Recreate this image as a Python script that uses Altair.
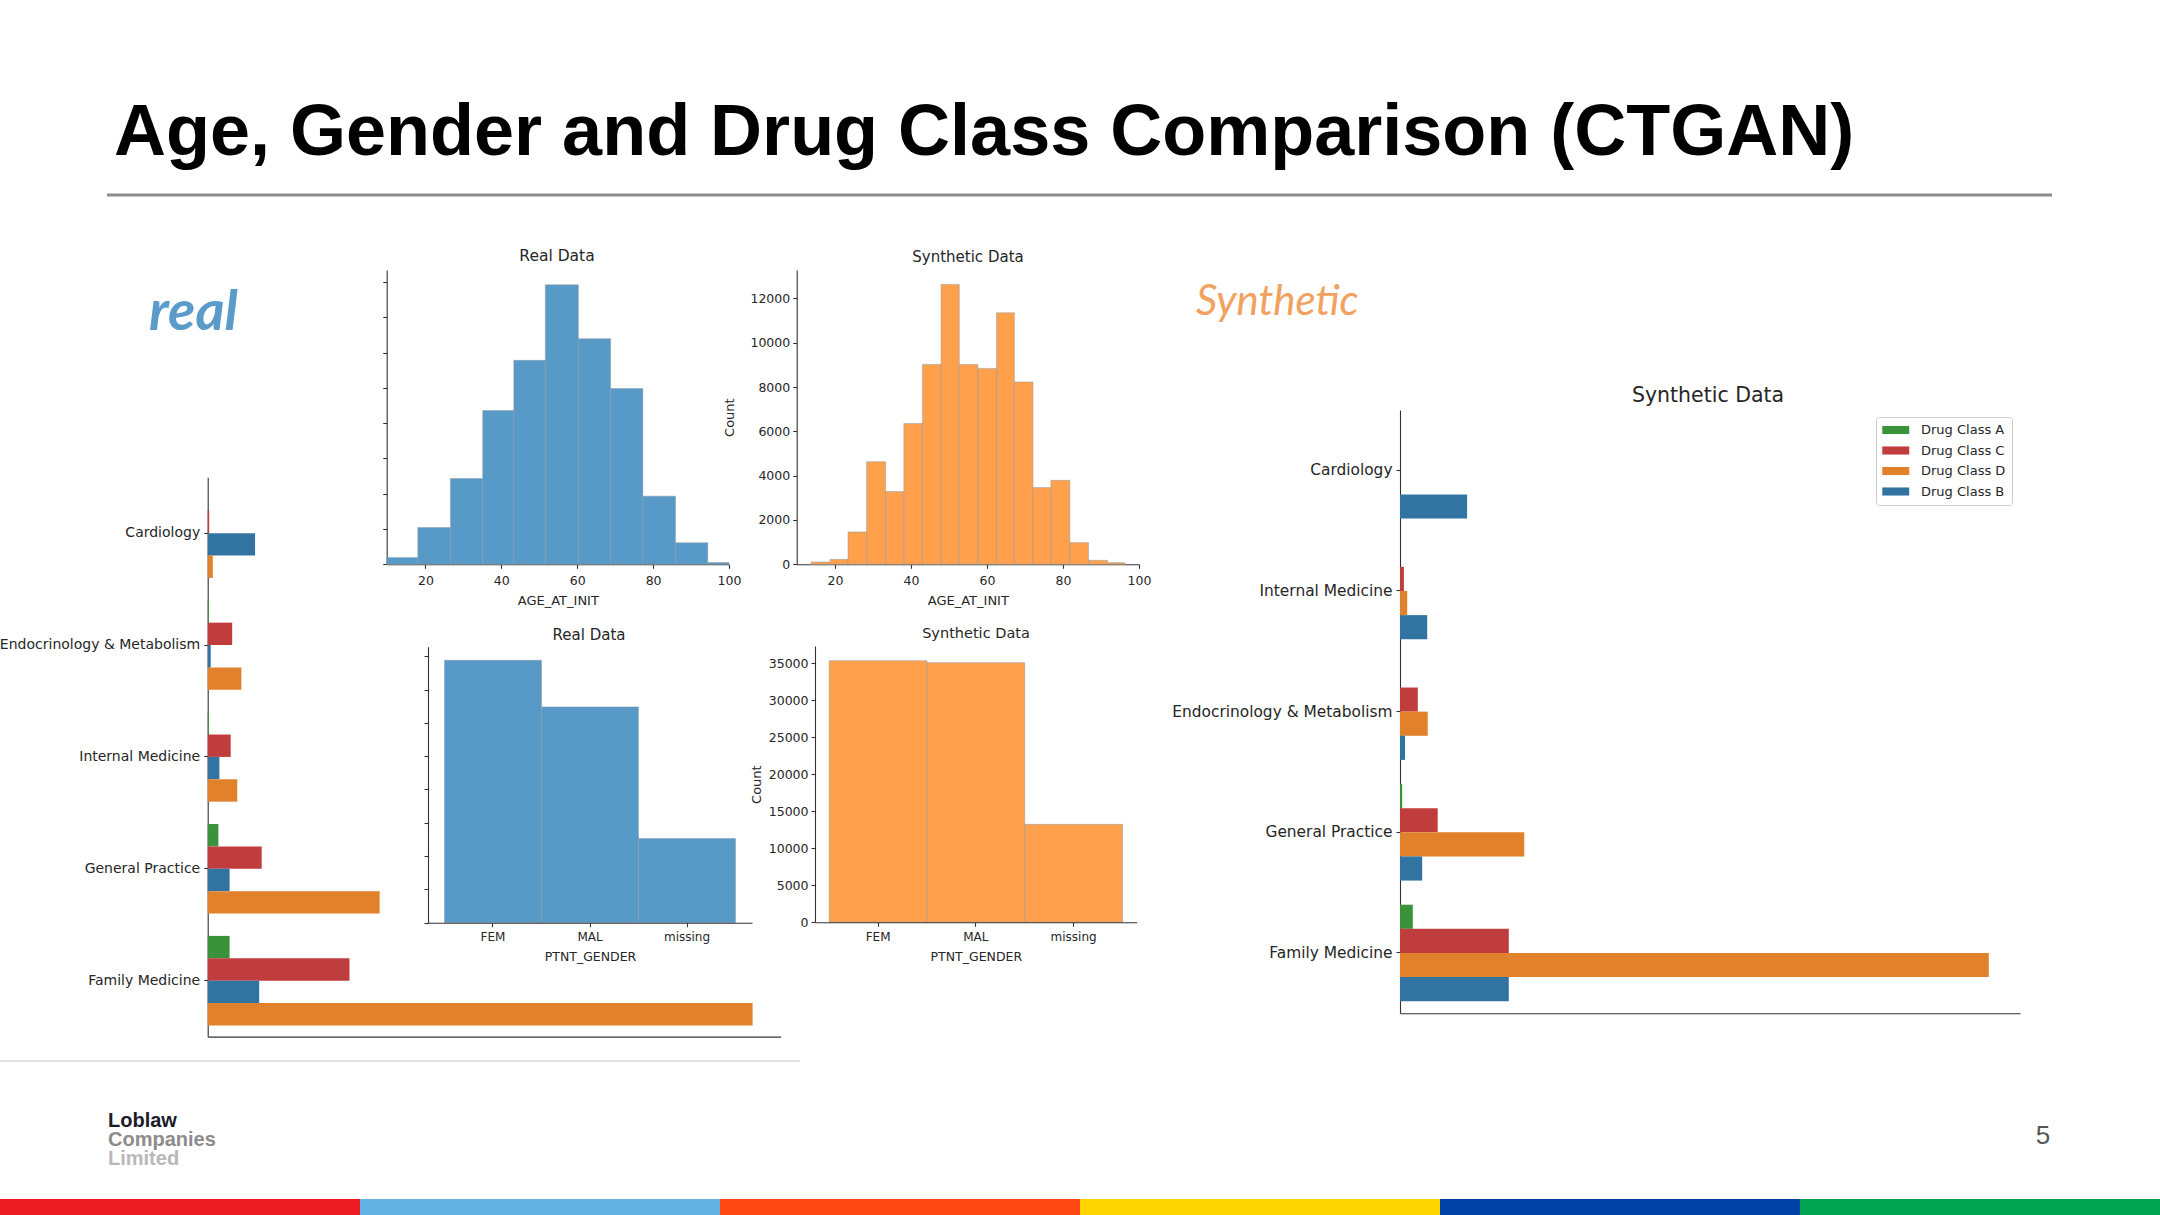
import altair as alt
import pandas as pd

W, H = 2160, 1215
PF = "DejaVu Sans"
SF = "Liberation Sans, Arial, sans-serif"
HAND = "Lato, Open Sans, sans-serif"
INK = "#262626"
AX = "#333333"

# ---------------- texts ----------------
SLIDE_TITLE = "Age, Gender and Drug Class Comparison (CTGAN)"
REAL_NOTE = "real"
SYN_NOTE = "Synthetic"
PANEL_REAL = "Real Data"
PANEL_SYN = "Synthetic Data"
LOGO_LINES = ["Loblaw", "Companies", "Limited"]
PAGE_NO = "5"

# ---------------- age histograms ----------------
REAL_AGE_EDGES = [9.8, 18.0, 26.6, 35.1, 43.3, 51.6, 60.3, 68.8, 77.3, 85.9, 94.4, 100.0]
REAL_AGE_COUNTS = [380, 2080, 4860, 8720, 11560, 15840, 12780, 9960, 3860, 1220, 100]
SYN_AGE_EDGES = [13.7, 18.7, 23.4, 28.3, 33.3, 38.1, 43.0, 47.9, 52.7, 57.6, 62.5,
                 67.2, 72.1, 76.8, 81.8, 86.7, 91.7, 96.3]
SYN_AGE_COUNTS = [105, 225, 1460, 4630, 3280, 6350, 9020, 12630, 9020, 8840, 11350,
                  8230, 3460, 3790, 980, 180, 75]
AGE_TICKS = [20, 40, 60, 80, 100]
REAL_AGE_YTICKS = [0, 2000, 4000, 6000, 8000, 10000, 12000, 14000, 16000]
SYN_AGE_YTICKS = [0, 2000, 4000, 6000, 8000, 10000, 12000]

# ---------------- gender histograms ----------------
GENDERS = ["FEM", "MAL", "missing"]
REAL_GENDER_COUNTS = [39400, 32400, 12650]
SYN_GENDER_COUNTS = [35360, 35090, 13240]
GENDER_YTICKS = [0, 5000, 10000, 15000, 20000, 25000, 30000, 35000, 40000]

# ---------------- drug class by specialty ----------------
SPECIALTIES_REAL = ["Cardiology", "Endocrinology & Metabolism", "Internal Medicine",
                    "General Practice", "Family Medicine"]
SPECIALTIES_SYN = ["Cardiology", "Internal Medicine", "Endocrinology & Metabolism",
                   "General Practice", "Family Medicine"]
CLASS_ORDER_REAL = ["Drug Class A", "Drug Class C", "Drug Class B", "Drug Class D"]
CLASS_ORDER_SYN = ["Drug Class A", "Drug Class C", "Drug Class D", "Drug Class B"]
CLASS_COLORS = ["#3a923a", "#c03d3e", "#e1812c", "#3274a1"]  # A, C, D, B

REAL_A = [0, 50, 50, 535, 1095]
REAL_C = [75, 1225, 1150, 2700, 7090]
REAL_B = [2370, 150, 585, 1095, 2575]
REAL_D = [255, 1685, 1480, 8600, 27250]

SYN_A = [0, 0, 0, 110, 640]
SYN_C = [0, 195, 890, 1885, 5440]
SYN_D = [0, 360, 1385, 6215, 29440]
SYN_B = [3355, 1360, 250, 1110, 5440]

BAND_COLORS = ["#ed1c24", "#62b3e3", "#ff4713", "#ffd600", "#0041a8", "#00a451"]


# ---------------- helpers ----------------
def xaxis(y_px, **kw):
    base = dict(orient="bottom", offset=y_px - H, grid=False, domainColor=AX,
                domainWidth=1.1, tickColor=AX, tickWidth=1.1, tickSize=4,
                labelColor=INK, labelFont=PF, titleFont=PF, titleColor=INK,
                titleFontWeight="normal", labelFlush=False, labelLimit=0)
    base.update(kw)
    return alt.Axis(**base)


def yaxis(x_px, **kw):
    base = dict(orient="left", offset=-x_px, grid=False, domainColor=AX,
                domainWidth=1.1, tickColor=AX, tickWidth=1.1, tickSize=4,
                labelColor=INK, labelFont=PF, titleFont=PF, titleColor=INK,
                titleFontWeight="normal", labelFlush=False, labelLimit=0)
    base.update(kw)
    return alt.Axis(**base)


def text(t, x, y, size, color=INK, font=PF, weight="normal", style="normal",
         align="center", baseline="middle"):
    return alt.Chart(pd.DataFrame({"t": [t]})).mark_text(
        font=font, fontSize=size, fontWeight=weight, fontStyle=style,
        color=color, align=align, baseline=baseline
    ).encode(text="t:N", x=alt.value(x), y=alt.value(y))


def hrule(x1, x2, y, color, width):
    return alt.Chart(pd.DataFrame({"k": [0]})).mark_rule(
        color=color, strokeWidth=width
    ).encode(x=alt.value(x1), x2=alt.value(x2), y=alt.value(y))


def age_hist(edges, counts, color, xr, yr, ydom, yticks, ylabels, ytitle):
    df = pd.DataFrame({"start": edges[:-1], "end": edges[1:], "count": counts})
    return alt.Chart(df).mark_rect(
        color=color, stroke="#8e9aa6", strokeWidth=0.7, strokeOpacity=0.7
    ).encode(
        x=alt.X("start:Q", scale=alt.Scale(domain=[xr[2], 100], range=[xr[0], xr[1]],
                                          nice=False, zero=False),
                axis=xaxis(yr[0], values=AGE_TICKS, title="AGE_AT_INIT",
                           labelFontSize=12.5, titleFontSize=13, labelPadding=6,
                           titlePadding=8)),
        x2="end:Q",
        y=alt.Y("count:Q", scale=alt.Scale(domain=[0, ydom], range=[yr[0], yr[1]],
                                          nice=False, zero=True),
                axis=yaxis(xr[0], values=yticks, labels=ylabels, title=ytitle,
                           labelFontSize=12.5, titleFontSize=13, labelPadding=3,
                           titlePadding=13, format="d")),
        y2=alt.datum(0),
    )


def gender_hist(counts, color, xr, pad, yr, ydom, ylabels, ytitle):
    df = pd.DataFrame({"g": GENDERS, "count": counts})
    return alt.Chart(df).mark_rect(
        color=color, stroke="#8e9aa6", strokeWidth=0.7, strokeOpacity=0.7
    ).encode(
        x=alt.X("g:N", sort=GENDERS,
                scale=alt.Scale(domain=GENDERS, range=[xr[0], xr[1]],
                                paddingInner=0, paddingOuter=pad),
                axis=xaxis(yr[0], title="PTNT_GENDER", labelAngle=0,
                           labelFontSize=12, titleFontSize=12.5, labelPadding=5,
                           titlePadding=8)),
        y=alt.Y("count:Q", scale=alt.Scale(domain=[0, ydom], range=[yr[0], yr[1]],
                                          nice=False, zero=True),
                axis=yaxis(xr[0], values=GENDER_YTICKS, labels=ylabels, title=ytitle,
                           labelFontSize=12.5, titleFontSize=13, labelPadding=3,
                           titlePadding=5, format="d")),
        y2=alt.datum(0),
    )


LEGEND = alt.Legend(
    title=None, orient="none", legendX=1876, legendY=417,
    symbolType="M-1,-0.6H3V0.6H-1Z", symbolSize=182, symbolStrokeWidth=0,
    labelFont=PF, labelFontSize=13, labelColor=INK, labelOffset=25,
    rowPadding=6.5, padding=6, strokeColor="#cccccc", cornerRadius=3,
    fillColor="white", labelLimit=0,
)


def class_bars(specs, orders, values, xr, xdom, yr, label_size):
    rows = []
    for cls, vals in values.items():
        for s, v in zip(specs, vals):
            rows.append({"specialty": s, "cls": cls, "value": v})
    df = pd.DataFrame(rows)
    return alt.Chart(df).mark_bar().encode(
        y=alt.Y("specialty:N", sort=specs,
                scale=alt.Scale(domain=specs, range=[yr[0], yr[1]],
                                paddingInner=0.2, paddingOuter=0.1),
                axis=yaxis(xr[0], title=None, labelFontSize=label_size,
                           labelPadding=4, tickSize=4)),
        yOffset=alt.YOffset("cls:N", sort=orders,
                            scale=alt.Scale(domain=orders, paddingInner=0,
                                            paddingOuter=0)),
        x=alt.X("value:Q", scale=alt.Scale(domain=[0, xdom], range=[xr[0], xr[1]],
                                          nice=False, zero=True),
                axis=xaxis(yr[1], labels=False, ticks=False, title=None)),
        color=alt.Color("cls:N", scale=alt.Scale(domain=CLASS_ORDER_SYN,
                                                 range=CLASS_COLORS),
                        legend=LEGEND),
    )


# ---------------- panels ----------------
real_age = age_hist(REAL_AGE_EDGES, REAL_AGE_COUNTS, "#5799c7",
                    (386.7, 729, 9.8), (564.3, 270), 16680, REAL_AGE_YTICKS,
                    False, None)
syn_age = age_hist(SYN_AGE_EDGES, SYN_AGE_COUNTS, "#ffa04d",
                   (796.7, 1139, 9.9), (564.3, 270), 13280, SYN_AGE_YTICKS,
                   True, "Count")
real_gender = gender_hist(REAL_GENDER_COUNTS, "#5799c7", (428, 752), 0.17,
                          (922.7, 646.7), 41440, False, None)
syn_gender = gender_hist(SYN_GENDER_COUNTS, "#ffa04d", (815, 1136.7), 0.145,
                         (922.3, 646), 37340, True, "Count")

left_bars = class_bars(SPECIALTIES_REAL, CLASS_ORDER_REAL,
                       {"Drug Class A": REAL_A, "Drug Class C": REAL_C,
                        "Drug Class B": REAL_B, "Drug Class D": REAL_D},
                       (207.7, 780.6), 28650, (477.2, 1036.6), 14)
right_bars = class_bars(SPECIALTIES_SYN, CLASS_ORDER_SYN,
                        {"Drug Class A": SYN_A, "Drug Class C": SYN_C,
                         "Drug Class D": SYN_D, "Drug Class B": SYN_B},
                        (1400, 2020), 31000, (410, 1013.3), 15.4)

band = alt.Chart(pd.DataFrame({"seg": list(range(len(BAND_COLORS))),
                               "c": BAND_COLORS})).mark_rect().encode(
    x=alt.X("seg:O", scale=alt.Scale(range=[0, W], paddingInner=0, paddingOuter=0),
            axis=None),
    y=alt.value(1199), y2=alt.value(H),
    fill=alt.Fill("c:N", scale=None, legend=None),
)

layers = [
    text(SLIDE_TITLE, 114, 155, 72, color="#000000", font=SF, weight="bold",
         align="left", baseline="alphabetic"),
    hrule(107, 2052, 195, "#8c8c8c", 3),
    hrule(0, 800, 1061, "#e2e2e2", 2),
    left_bars,
    real_age, syn_age, real_gender, syn_gender,
    right_bars,
    text(PANEL_REAL, 557, 256, 15.5),
    text(PANEL_SYN, 968, 257, 15),
    text(PANEL_REAL, 589, 635, 15),
    text(PANEL_SYN, 976, 634, 14.5),
    text(PANEL_SYN, 1708, 396, 20.5),
    text(REAL_NOTE, 149, 330, 56, color="#5a9bc9", font=HAND, style="italic",
         weight="bold", align="left", baseline="alphabetic"),
    text(SYN_NOTE, 1196, 315, 42, color="#f2a15f", font=HAND, style="italic",
         align="left", baseline="alphabetic"),
    text(LOGO_LINES[0], 108, 1127, 20, color="#1b1b2b", font=SF, weight="bold",
         align="left", baseline="alphabetic"),
    text(LOGO_LINES[1], 108, 1146, 20, color="#8c8c8c", font=SF, weight="bold",
         align="left", baseline="alphabetic"),
    text(LOGO_LINES[2], 108, 1165, 20, color="#b8b8b8", font=SF, weight="bold",
         align="left", baseline="alphabetic"),
    text(PAGE_NO, 2043, 1144, 26, color="#555555", font=SF, align="center",
         baseline="alphabetic"),
    band,
]

chart = alt.layer(*layers).resolve_scale(
    x="independent", y="independent", yOffset="independent"
).resolve_axis(
    x="independent", y="independent"
).properties(
    width=W, height=H, padding=0,
    autosize=alt.AutoSizeParams(type="none"),
    background="white",
).configure_view(stroke=None)

chart.save("out.html", embed_options={"renderer": "svg", "actions": False})
